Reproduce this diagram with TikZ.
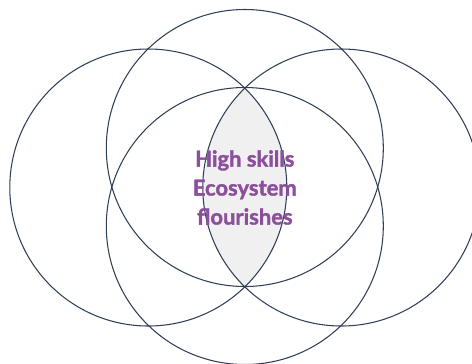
\documentclass[tikz,border=0pt]{standalone}
\usepackage{fontspec}
\setmainfont{Lato}
\newfontfamily\corefont{Lato}[BoldFeatures={FakeBold=1.6}]
\definecolor{ringcol}{HTML}{2F3F55}
\definecolor{lenscol}{HTML}{F0F0F0}
\definecolor{textcol}{HTML}{8B4F9B}
\tikzset{ring/.style={draw=ringcol, line width=0.6pt}}
\begin{document}
\begin{tikzpicture}
    \useasboundingbox (-4.896,-3.51) rectangle (4.544,3.75);
    \coordinate (west) at (-1.93,0);
    \coordinate (east) at (1.93,0);
    \coordinate (north) at (0,0.79);
    \coordinate (south) at (0,-0.77);
    % shaded overlap of the side rings
    \begin{scope}
    \clip (west) circle (2.77);
    \fill[lenscol] (east) circle (2.77);
    \end{scope}
    \foreach \c in {west,east,north,south}
    \draw[ring] (\c) circle (2.77);
    \node[text=textcol, font=\corefont\bfseries\fontsize{12.5}{16.5}\selectfont, align=center] (core) at (0,0) {High skills\\Ecosystem\\flourishes};
\end{tikzpicture}
\end{document}
